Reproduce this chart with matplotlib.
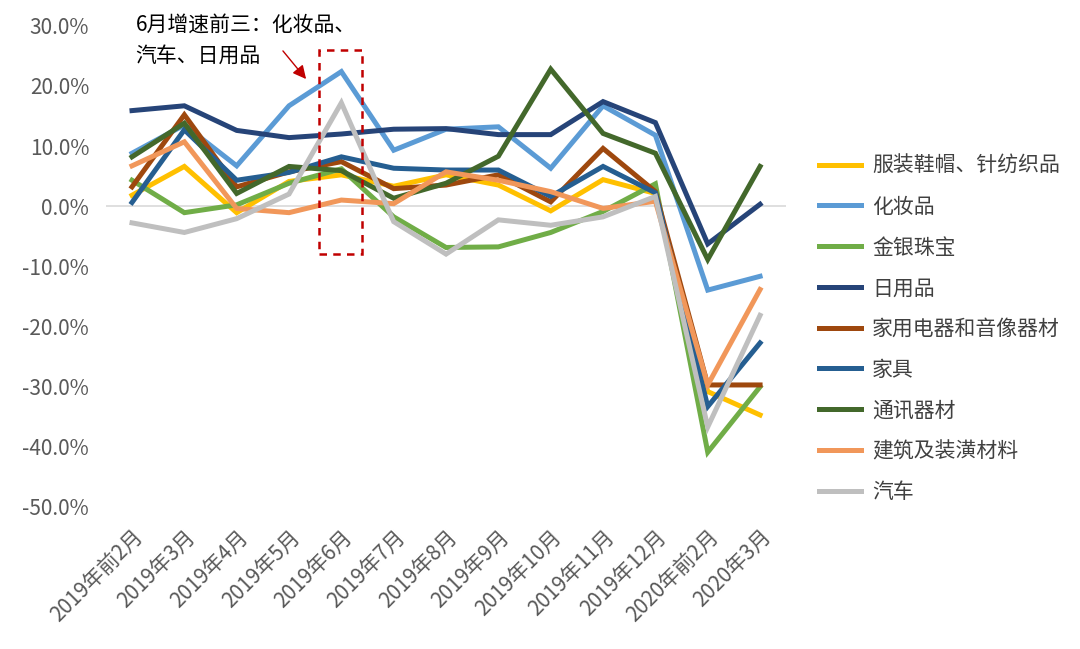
import matplotlib
matplotlib.use('Agg')
import matplotlib.pyplot as plt
from matplotlib.patches import Rectangle
from matplotlib.ticker import FuncFormatter

plt.rcParams['font.family'] = ['Noto Sans CJK SC', 'DejaVu Sans']

months = ['2019年前2月', '2019年3月', '2019年4月', '2019年5月', '2019年6月', '2019年7月',
          '2019年8月', '2019年9月', '2019年10月', '2019年11月', '2019年12月', '2020年前2月', '2020年3月']

# monthly retail growth by category, %
clothing = [1.8, 6.6, -1.1, 4.1, 5.2, 3.3, 5.2, 3.5, -0.8, 4.4, 2.1, -30.9, -34.8]
cosmetics = [8.8, 13.5, 6.7, 16.7, 22.4, 9.3, 12.8, 13.2, 6.3, 16.7, 11.8, -14.0, -11.7]
jewelry = [4.3, -1.1, 0.2, 3.8, 6.2, -1.8, -6.9, -6.8, -4.4, -0.9, 3.7, -41.0, -30.1]
daily = [15.9, 16.7, 12.6, 11.4, 12.0, 12.8, 12.9, 11.9, 11.9, 17.4, 13.9, -6.3, 0.3]
appliance = [3.2, 15.2, 3.2, 5.7, 7.4, 2.9, 3.5, 5.2, 0.7, 9.6, 2.4, -29.8, -29.8]
furniture = [0.6, 12.7, 4.3, 5.6, 8.2, 6.3, 6.0, 6.0, 1.6, 6.6, 2.2, -33.4, -22.8]
telecom = [8.2, 13.8, 2.1, 6.6, 5.9, 1.3, 3.8, 8.3, 22.8, 12.1, 8.8, -8.9, 6.6]
building = [6.7, 10.7, -0.4, -1.1, 1.0, 0.4, 5.7, 4.3, 2.4, -0.4, 0.8, -29.8, -13.9]
autos = [-2.8, -4.4, -2.1, 2.0, 17.2, -2.6, -8.0, -2.3, -3.2, -1.8, 1.6, -36.8, -18.2]

series = [
    ('服装鞋帽、针纺织品', clothing, '#FFC000'),
    ('化妆品', cosmetics, '#5B9BD5'),
    ('金银珠宝', jewelry, '#70AD47'),
    ('日用品', daily, '#264478'),
    ('家用电器和音像器材', appliance, '#9E480E'),
    ('家具', furniture, '#255E91'),
    ('通讯器材', telecom, '#43682B'),
    ('建筑及装潢材料', building, '#F1975A'),
    ('汽车', autos, '#BFBFBF'),
]

fig = plt.figure(figsize=(10.8, 6.49), dpi=100)
ax = fig.add_axes([0.098, 0.22, 0.63, 0.74])

x = list(range(len(months)))
for name, vals, color in series:
    ax.plot(x, vals, color=color, linewidth=3.6, label=name, solid_joinstyle='miter')

ax.axhline(0, color='#D9D9D9', linewidth=1.2, zorder=0)
ax.set_xlim(-0.5, 12.5)
ax.set_ylim(-50, 30)
ax.set_yticks(range(-50, 31, 10))
ax.yaxis.set_major_formatter(FuncFormatter(lambda v, p: f'{v:.1f}%'))
ax.set_xticks(x)
ax.set_xticklabels(months, rotation=45, ha='right', rotation_mode='anchor')
ax.tick_params(axis='both', length=0, labelsize=15, colors='#595959')
ax.tick_params(axis='x', pad=14)
ax.tick_params(axis='y', pad=12)
for s in ax.spines.values():
    s.set_visible(False)

# highlight June
ax.add_patch(Rectangle((3.58, -8), 0.82, 34, fill=False, edgecolor='#C00000',
                       linestyle=(0, (3, 2.5)), linewidth=1.8, zorder=5))
ax.annotate('', xy=(3.36, 20.8), xytext=(2.85, 26.2),
            arrowprops=dict(arrowstyle='-|>', color='#C00000', lw=1, mutation_scale=20))
ax.text(0.07, 27.6, '6月增速前三：化妆品、\n汽车、日用品', fontsize=15, color='black',
        va='center', ha='left', linespacing=1.55)

handles, labels = ax.get_legend_handles_labels()
fig.legend(handles, labels, loc='upper left', bbox_to_anchor=(0.741, 0.79), frameon=False,
           fontsize=15, labelcolor='#404040', handlelength=2.0, handletextpad=0.55,
           labelspacing=0.9)

fig.savefig('out.png', dpi=100)
